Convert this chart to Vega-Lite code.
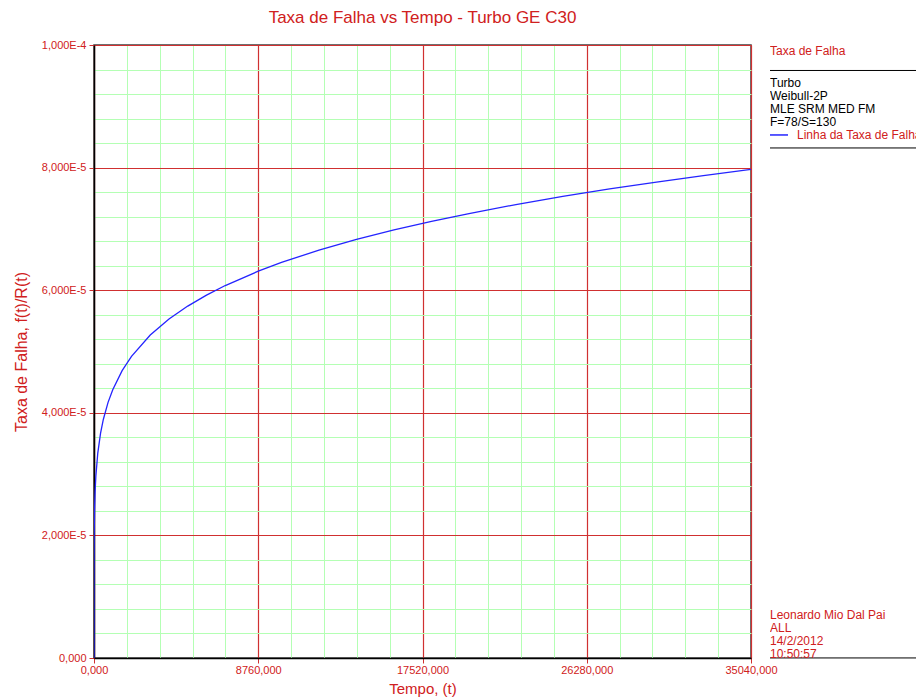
{
  "$schema": "https://vega.github.io/schema/vega-lite/v6.json",
  "padding": {"left": 12, "top": 8, "right": 0, "bottom": 0},
  "background": "white",
  "config": {"font": "Liberation Sans", "view": {"stroke": null}},
  "bounds": "flush",
  "spacing": 19,
  "hconcat": [
    {
      "width": 657,
      "height": 613,
      "title": {"text": "Taxa de Falha vs Tempo - Turbo GE C30", "color": "#d02020", "fontSize": 17, "fontWeight": "normal", "font": "Liberation Sans", "offset": 12, "anchor": "middle"},
      "view": {"stroke": "#404040", "strokeWidth": 1.5},
      "data": {"values": [
        {"t": 0, "h": 0},
        {"t": 0.00001, "h": 0.00000196},
        {"t": 0.001, "h": 0.00000427},
        {"t": 0.1, "h": 0.00000927},
        {"t": 1, "h": 0.00001367},
        {"t": 10, "h": 0.00002015},
        {"t": 30, "h": 0.00002424},
        {"t": 60, "h": 0.00002725},
        {"t": 100, "h": 0.00002969},
        {"t": 200, "h": 0.00003337},
        {"t": 350, "h": 0.00003667},
        {"t": 500, "h": 0.00003895},
        {"t": 750, "h": 0.00004170},
        {"t": 1000, "h": 0.00004377},
        {"t": 1500, "h": 0.00004687},
        {"t": 2000, "h": 0.00004920},
        {"t": 3000, "h": 0.00005268},
        {"t": 4000, "h": 0.00005529},
        {"t": 5000, "h": 0.00005741},
        {"t": 6000, "h": 0.00005920},
        {"t": 7000, "h": 0.00006076},
        {"t": 8760, "h": 0.00006310},
        {"t": 10000, "h": 0.00006453},
        {"t": 12000, "h": 0.00006654},
        {"t": 14000, "h": 0.00006829},
        {"t": 16000, "h": 0.00006984},
        {"t": 18000, "h": 0.00007124},
        {"t": 20000, "h": 0.00007251},
        {"t": 22500, "h": 0.00007397},
        {"t": 25000, "h": 0.00007530},
        {"t": 27500, "h": 0.00007652},
        {"t": 30000, "h": 0.00007764},
        {"t": 32500, "h": 0.00007870},
        {"t": 35040, "h": 0.00007970}
      ]},
      "layer": [
        {
          "mark": {"type": "line", "opacity": 0},
          "encoding": {
            "x": {"field": "t", "type": "quantitative", "scale": {"domain": [0, 35040], "nice": false, "zero": false},
              "axis": {"orient": "top", "values": [1752, 3504, 5256, 7008, 10512, 12264, 14016, 15768, 19272, 21024, 22776, 24528, 28032, 29784, 31536, 33288], "grid": true, "gridColor": "#b4ffb4", "gridOpacity": 1, "labels": false, "ticks": false, "domain": false, "title": null}},
            "y": {"field": "h", "type": "quantitative", "scale": {"domain": [0, 0.0001], "nice": false},
              "axis": {"orient": "right", "values": [0.000004, 0.000008, 0.000012, 0.000016, 0.000024, 0.000028, 0.000032, 0.000036, 0.000044, 0.000048, 0.000052, 0.000056, 0.000064, 0.000068, 0.000072, 0.000076, 0.000084, 0.000088, 0.000092, 0.000096], "grid": true, "gridColor": "#b4ffb4", "gridOpacity": 1, "labels": false, "ticks": false, "domain": false, "title": null}}
          }
        },
        {
          "mark": {"type": "line", "color": "#2424ff", "strokeWidth": 1.3, "clip": true},
          "encoding": {
            "x": {"field": "t", "type": "quantitative", "scale": {"domain": [0, 35040], "nice": false, "zero": false},
              "axis": {"orient": "bottom", "values": [0, 8760, 17520, 26280, 35040], "labelExpr": "replace(format(datum.value, '.3f'), '.', ',')", "grid": true, "gridColor": "#d03030", "gridOpacity": 1, "gridWidth": 1.2, "domainColor": "#000000", "domainWidth": 1.5, "tickColor": "#d03030", "tickSize": 5, "labelColor": "#d02020", "labelFontSize": 11, "labelPadding": 1, "labelFlush": false, "labelOverlap": false, "title": "Tempo, (t)", "titleColor": "#d02020", "titleFontSize": 15, "titleFontWeight": "normal", "titlePadding": 6}},
            "y": {"field": "h", "type": "quantitative", "scale": {"domain": [0, 0.0001], "nice": false},
              "axis": {"orient": "left", "values": [0, 0.00002, 0.00004, 0.00006, 0.00008, 0.0001], "labelExpr": "datum.value == 0 ? '0,000' : (datum.value > 0.000099 ? '1,000E-4' : replace(format(datum.value * 100000, '.3f'), '.', ',') + 'E-5')", "grid": true, "gridColor": "#d03030", "gridOpacity": 1, "gridWidth": 1.2, "domainColor": "#000000", "domainWidth": 1.5, "tickColor": "#d03030", "tickSize": 5, "labelColor": "#d02020", "labelFontSize": 11, "labelPadding": 3, "labelFlush": false, "labelOverlap": false, "title": "Taxa de Falha,  f(t)/R(t)", "titleColor": "#d02020", "titleFontSize": 16, "titleFontWeight": "normal", "titlePadding": 12}}
          }
        }
      ],
      "resolve": {"axis": {"x": "independent", "y": "independent"}}
    },
    {
      "width": 146,
      "height": 613,
      "data": {"values": [
        {"row": 0.46, "kind": "texto", "grupo": "cabecalho", "label": "Taxa de Falha"},
        {"row": 1.96, "kind": "linha"},
        {"row": 2.92, "kind": "texto", "grupo": "info", "label": "Turbo"},
        {"row": 3.92, "kind": "texto", "grupo": "info", "label": "Weibull-2P"},
        {"row": 4.92, "kind": "texto", "grupo": "info", "label": "MLE SRM MED FM"},
        {"row": 5.92, "kind": "texto", "grupo": "info", "label": "F=78/S=130"},
        {"row": 6.92, "kind": "legenda", "grupo": "legenda", "label": "Linha da Taxa de Falha"},
        {"row": 7.92, "kind": "linha"},
        {"row": 43.85, "kind": "texto", "grupo": "rodape", "label": "Leonardo Mio Dal Pai"},
        {"row": 44.85, "kind": "texto", "grupo": "rodape", "label": "ALL"},
        {"row": 45.85, "kind": "texto", "grupo": "rodape", "label": "14/2/2012"},
        {"row": 46.85, "kind": "texto", "grupo": "rodape", "label": "10:50:57"},
        {"row": 47.15, "kind": "linha"}
      ]},
      "layer": [
        {
          "transform": [{"filter": "datum.kind == 'linha'"}],
          "mark": {"type": "rule", "color": "#000000", "strokeWidth": 1},
          "encoding": {
            "y": {"field": "row", "type": "quantitative", "scale": {"domain": [0, 47.1538], "reverse": true, "nice": false, "zero": false}, "axis": null}
          }
        },
        {
          "transform": [{"filter": "datum.kind == 'texto'"}],
          "mark": {"type": "text", "align": "left", "baseline": "middle", "fontSize": 12, "font": "Liberation Sans", "clip": true},
          "encoding": {
            "x": {"datum": 0, "type": "quantitative", "scale": {"domain": [0, 146], "nice": false, "zero": false}, "axis": null},
            "y": {"field": "row", "type": "quantitative", "axis": null},
            "text": {"field": "label"},
            "color": {"field": "grupo", "type": "nominal", "scale": {"domain": ["cabecalho", "info", "legenda", "rodape"], "range": ["#d02020", "#000000", "#d02020", "#d02020"]}, "legend": null}
          }
        },
        {
          "transform": [{"filter": "datum.kind == 'legenda'"}],
          "mark": {"type": "text", "align": "left", "baseline": "middle", "fontSize": 12, "font": "Liberation Sans", "clip": true},
          "encoding": {
            "x": {"datum": 27, "type": "quantitative"},
            "y": {"field": "row", "type": "quantitative", "axis": null},
            "text": {"field": "label"},
            "color": {"field": "grupo", "type": "nominal", "legend": null}
          }
        },
        {
          "transform": [{"filter": "datum.kind == 'legenda'"}],
          "mark": {"type": "point", "shape": "stroke", "size": 324, "filled": false, "strokeWidth": 1.5, "color": "#2424ff", "opacity": 1},
          "encoding": {
            "x": {"datum": 9, "type": "quantitative"},
            "y": {"field": "row", "type": "quantitative", "axis": null}
          }
        }
      ]
    }
  ]
}
